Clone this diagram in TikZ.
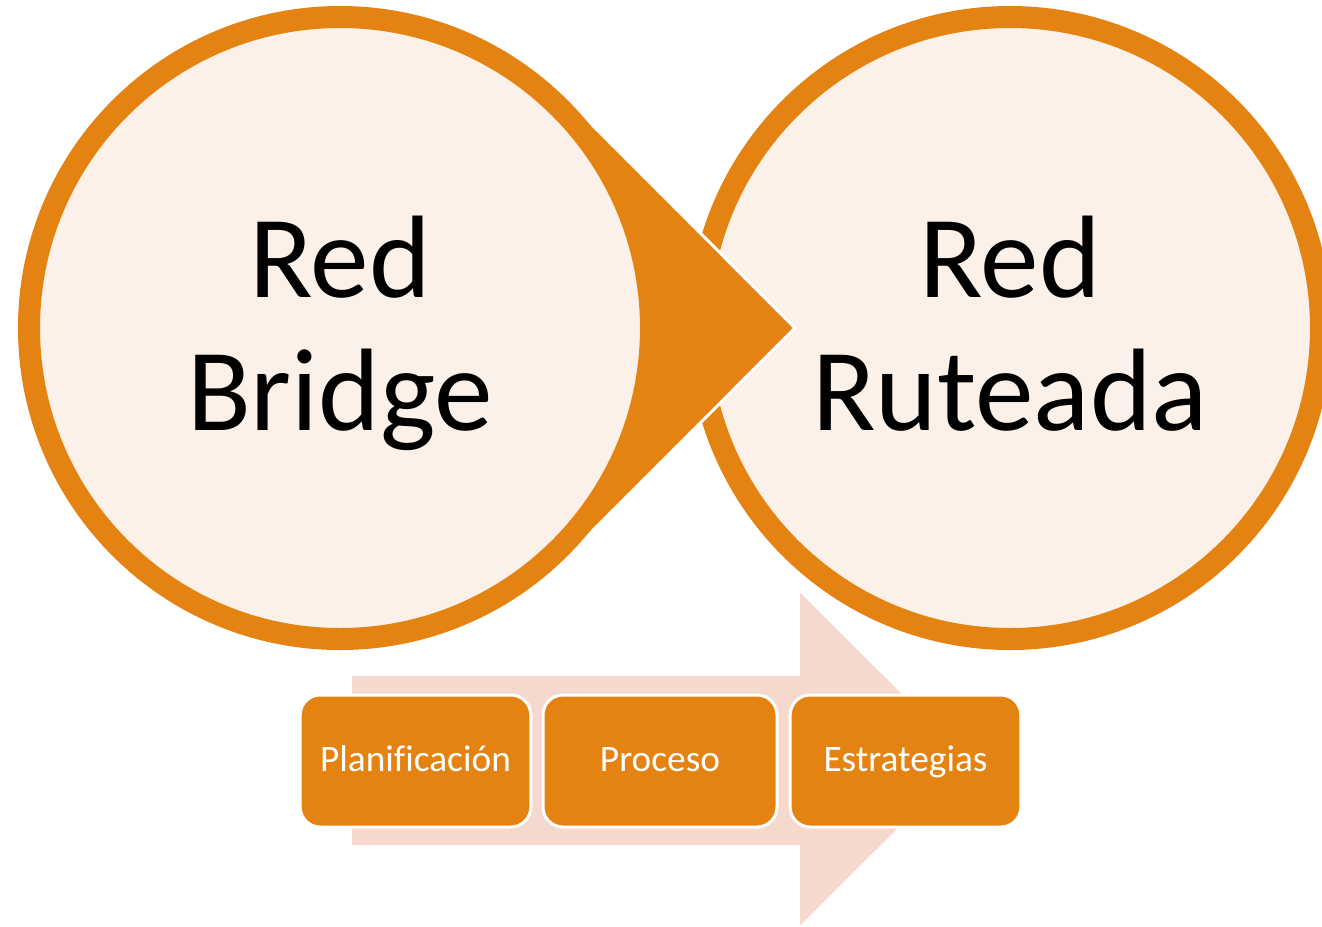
\documentclass[tikz,border=0pt]{standalone}
\usepackage{fontspec}
\setmainfont{Carlito}[Ligatures=NoCommon]
\usepackage{xcolor}
\definecolor{ringorange}{HTML}{E48312}
\definecolor{circlefill}{HTML}{FCF1E8}
\definecolor{arrowpink}{HTML}{F5D9CE}
\newcommand{\bigtext}{\fontsize{88}{99.75}\selectfont}
\newcommand{\smalltext}{\fontsize{28}{34}\selectfont}
\newcommand{\ringstrut}{\rule[-18pt]{0pt}{89.25pt}}
\tikzset{
  ring/.style = {circle, minimum size=466.5pt, inner sep=0pt, fill=circlefill,
    draw=ringorange, line width=16.5pt, align=center, font=\bigtext},
  stepbox/.style = {rectangle, rounded corners=15pt, minimum width=173pt,
    minimum height=99pt, fill=ringorange, draw=white, line width=2.25pt,
    text=white, font=\smalltext, text height=20pt, text depth=5pt}
}
\begin{document}
\begin{tikzpicture}[x=0.75pt, y=-0.75pt]
       \useasboundingbox (0,0) rectangle (1322,926);
       \node [ring] (ruteada) at (1010,328) {\ringstrut Red\\\ringstrut Ruteada};
       \filldraw [fill=ringorange, draw=white, line width=2.25pt] (567.7,100.3) arc [start angle=-45, end angle=-315, radius=322] -- (795,328) -- cycle;
       \node [ring] (bridge) at (340,328) {\ringstrut Red\\\ringstrut Bridge};
       \fill [arrowpink] (352,676) -- (800,676) -- (800,592.5) -- (967,759) -- (800,925.5) -- (800,845) -- (352,845) -- cycle;
       \node [stepbox] (plan) at (415.5,761) {Planificación};
       \node [stepbox, minimum width=175.5pt] (proceso) at (660,761) {Proceso};
       \node [stepbox] (estrat) at (905.5,761) {Estrategias};
\end{tikzpicture}
\end{document}
